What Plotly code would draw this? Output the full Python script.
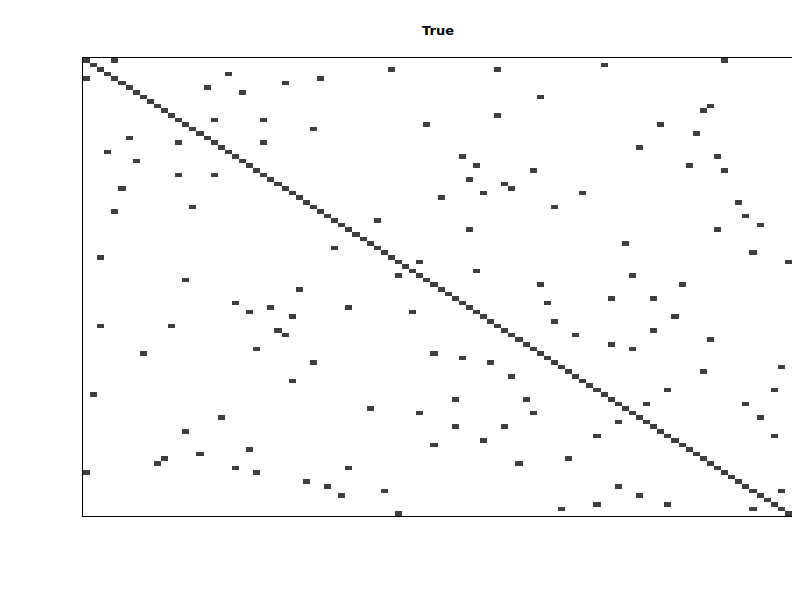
import numpy as np
import plotly.graph_objects as go

# number of nodes in the adjacency matrix
n_nodes = 100

# off-diagonal non-zero entries (row, column)
edge_rows = [0, 4, 3, 5, 4, 6, 7, 13, 13, 15, 17, 18, 18, 20, 22, 25, 25, 28, 32, 33, 43, 48, 50,
             2, 2, 8, 12, 14, 21, 23, 24, 26, 27, 28, 29, 30, 32, 35, 37, 41, 44, 46, 47, 49,
             1, 0, 10, 11, 14, 16, 19, 21, 23, 24, 29, 31, 34, 36, 37, 40, 42, 44, 47, 49,
             53, 55, 54, 56, 58, 58, 59, 60, 64, 63, 66, 70, 73, 78, 81, 85, 86, 87, 88, 89, 90, 90, 92,
             54, 55, 53, 57, 64, 65, 66, 69, 74, 74, 76, 77, 77, 80, 80, 83, 84, 88, 89, 93, 95, 94, 99,
             52, 52, 56, 59, 60, 61, 62, 63, 67, 68, 72, 72, 75, 75, 78, 79, 82, 82, 87, 93, 94, 95, 97, 97, 98, 98]
edge_cols = [4, 0, 20, 28, 33, 17, 22, 18, 25, 32, 6, 13, 25, 3, 7, 13, 18, 5, 15, 4, 2, 14, 30,
             43, 58, 64, 58, 48, 53, 55, 63, 54, 59, 60, 56, 50, 66, 41, 54, 35, 47, 55, 44, 64,
             73, 90, 88, 87, 81, 86, 78, 89, 85, 90, 70, 92, 93, 95, 89, 76, 94, 99, 77, 84,
             21, 23, 26, 29, 2, 12, 27, 28, 8, 24, 32, 29, 1, 19, 14, 23, 16, 11, 10, 21, 0, 24, 31,
             37, 46, 65, 66, 49, 53, 57, 60, 52, 62, 40, 47, 63, 52, 59, 56, 49, 61, 37, 34, 36, 42, 44,
             74, 80, 83, 80, 69, 88, 74, 77, 98, 87, 82, 97, 79, 93, 95, 75, 72, 97, 68, 75, 98, 78, 72, 82, 67, 94]

# build the matrix: self loops on the diagonal plus the edges
z = np.eye(n_nodes)
z[edge_rows, edge_cols] = 1

fig = go.Figure(data=go.Heatmap(
    z=z,
    colorscale=[[0, 'white'], [1, '#3f3f3f']],
    showscale=False,
    hoverinfo='skip',
))

# the page body adds an 8px offset, margins are compensated for it
fig.update_layout(
    title=dict(text='<b>True</b>', x=0.5375, xanchor='center', y=0.963, yanchor='middle',
               font=dict(family='DejaVu Sans', size=13, color='black')),
    width=800,
    height=600,
    margin=dict(l=75, r=16, t=50, b=92),
    plot_bgcolor='white',
    paper_bgcolor='white',
    xaxis=dict(showticklabels=False, ticks='', showgrid=False, zeroline=False,
               showline=True, mirror=True, linecolor='black', linewidth=1),
    yaxis=dict(showticklabels=False, ticks='', showgrid=False, zeroline=False,
               showline=True, mirror=True, linecolor='black', linewidth=1,
               autorange='reversed'),
)

fig.write_html("out.html")
